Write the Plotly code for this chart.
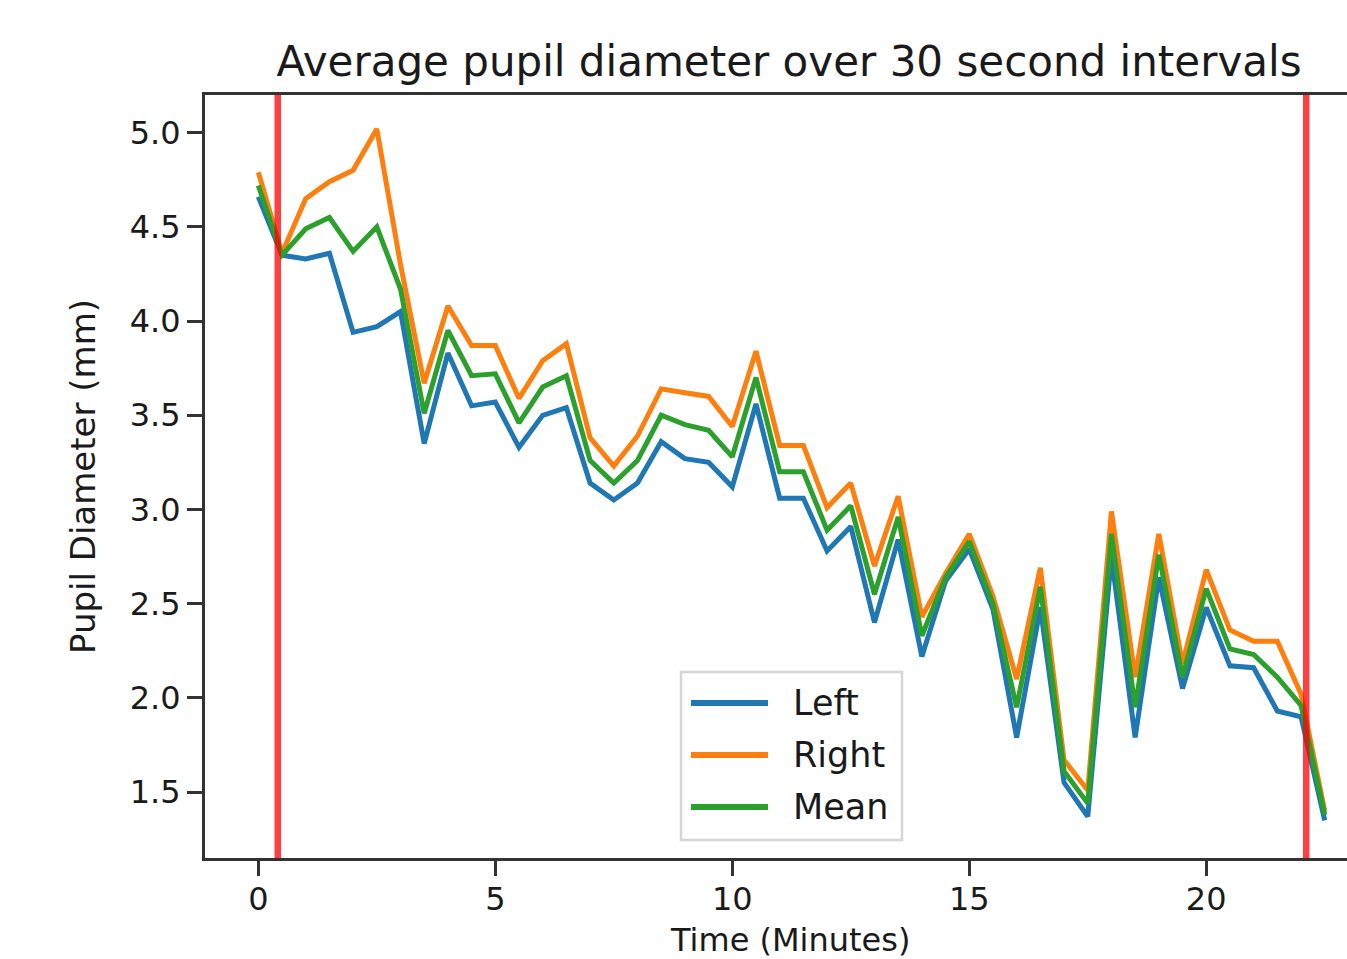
import plotly.graph_objects as go

# ---- data ----
time_min = [0.0, 0.5, 1.0, 1.5, 2.0, 2.5, 3.0, 3.5, 4.0, 4.5, 5.0, 5.5, 6.0, 6.5, 7.0, 7.5,
            8.0, 8.5, 9.0, 9.5, 10.0, 10.5, 11.0, 11.5, 12.0, 12.5, 13.0, 13.5, 14.0, 14.5,
            15.0, 15.5, 16.0, 16.5, 17.0, 17.5, 18.0, 18.5, 19.0, 19.5, 20.0, 20.5, 21.0,
            21.5, 22.0, 22.5]
left = [4.66, 4.35, 4.33, 4.36, 3.94, 3.97, 4.05, 3.35, 3.83, 3.55, 3.57, 3.33, 3.50, 3.54,
        3.14, 3.05, 3.14, 3.36, 3.27, 3.25, 3.12, 3.56, 3.06, 3.06, 2.78, 2.91, 2.40, 2.84,
        2.22, 2.62, 2.79, 2.47, 1.79, 2.48, 1.55, 1.37, 2.75, 1.79, 2.64, 2.05, 2.48, 2.17,
        2.16, 1.93, 1.90, 1.35]
right = [4.79, 4.36, 4.65, 4.74, 4.80, 5.02, 4.30, 3.67, 4.08, 3.87, 3.87, 3.59, 3.79, 3.88,
         3.38, 3.23, 3.39, 3.64, 3.62, 3.60, 3.44, 3.84, 3.34, 3.34, 3.01, 3.14, 2.70, 3.07,
         2.43, 2.66, 2.87, 2.54, 2.10, 2.69, 1.67, 1.51, 2.99, 2.11, 2.87, 2.18, 2.68, 2.36,
         2.30, 2.30, 2.02, 1.40]
mean = [4.72, 4.35, 4.49, 4.55, 4.37, 4.50, 4.17, 3.51, 3.95, 3.71, 3.72, 3.46, 3.65, 3.71,
        3.26, 3.14, 3.26, 3.50, 3.45, 3.42, 3.28, 3.70, 3.20, 3.20, 2.89, 3.02, 2.55, 2.96,
        2.33, 2.64, 2.83, 2.50, 1.95, 2.59, 1.61, 1.44, 2.87, 1.95, 2.76, 2.11, 2.58, 2.26,
        2.23, 2.11, 1.96, 1.38]
marker_times = [0.41, 22.11]
series_names = ["Left", "Right", "Mean"]
x_ticks = [0, 5, 10, 15, 20]
y_ticks = [1.5, 2.0, 2.5, 3.0, 3.5, 4.0, 4.5, 5.0]

colors = ["#1f77b4", "#ff7f0e", "#2ca02c"]
FONT = "DejaVu Sans"
TXT = "#1a1a1a"

W, H = 1347, 959
ML, MR, MT, MB = 205, 0, 95, 101
PW, PH = W - ML - MR, H - MT - MB


def px_x(p):  # pixel x -> paper x
    return (p - ML) / PW


def px_y(p):  # pixel y -> paper y
    return (H - MB - p) / PH


fig = go.Figure()
for name, ys, c in zip(series_names, [left, right, mean], colors):
    fig.add_trace(go.Scatter(x=time_min, y=ys, mode="lines", name=name,
                             line=dict(color=c, width=5), showlegend=False))

for t in marker_times:
    fig.add_vline(x=t, line=dict(color="rgba(255,0,0,0.75)", width=6.5), layer="above")

# ---- legend drawn as a framed box (matplotlib look) ----
bx0, bx1, by0, by1 = px_x(681), px_x(902), px_y(840), px_y(672)
fig.add_shape(type="rect", xref="paper", yref="paper", x0=bx0, x1=bx1, y0=by0, y1=by1,
              line=dict(color="#d6d6d6", width=2.5), fillcolor="rgba(255,255,255,0.8)",
              layer="above")
for i, (name, c) in enumerate(zip(series_names, colors)):
    yy = px_y(703 + 52 * i)
    fig.add_shape(type="line", xref="paper", yref="paper", x0=px_x(691), x1=px_x(768),
                  y0=yy, y1=yy, line=dict(color=c, width=6), layer="above")
    fig.add_annotation(xref="paper", yref="paper", x=px_x(791), y=yy, xanchor="left",
                       yanchor="middle", text=name, showarrow=False,
                       font=dict(family=FONT, size=35, color=TXT))

# x axis title as annotation (centred on the full, partly cropped axis)
fig.add_annotation(xref="paper", yref="paper", x=px_x(790), y=px_y(940), xanchor="center",
                   yanchor="middle", text="Time (Minutes)", showarrow=False, borderpad=0,
                   font=dict(family=FONT, size=32, color=TXT))

fig.update_layout(
    width=W, height=H,
    margin=dict(l=ML, r=MR, t=MT, b=MB),
    paper_bgcolor="white", plot_bgcolor="white",
    font=dict(family=FONT, size=32, color=TXT),
    title=dict(text="Average pupil diameter over 30 second intervals",
               x=789 / W, xanchor="center", xref="container",
               y=1 - 61 / H, yanchor="middle", yref="container",
               font=dict(family=FONT, size=42, color=TXT)),
    showlegend=False,
)

fig.update_xaxes(
    range=[-1.125, 22.97], tickvals=x_ticks, ticktext=[str(v) for v in x_ticks],
    showgrid=False, zeroline=False,
    showline=True, linecolor="#333333", linewidth=3, mirror=True,
    ticks="outside", ticklen=15, tickwidth=2.5, tickcolor="#333333",
    ticklabelstandoff=-4,
    tickfont=dict(family=FONT, size=32, color=TXT),
)
fig.update_yaxes(
    range=[1.15, 5.2], tickvals=y_ticks, ticktext=[f"{v:.1f}" for v in y_ticks],
    showgrid=False, zeroline=False,
    showline=True, linecolor="#333333", linewidth=3, mirror=False,
    ticks="outside", ticklen=15, tickwidth=2.5, tickcolor="#333333",
    tickfont=dict(family=FONT, size=32, color=TXT),
    title=dict(text="Pupil Diameter (mm)", standoff=24,
               font=dict(family=FONT, size=34, color=TXT)),
)

fig.write_html("out.html", config={"displayModeBar": False},
               post_script="document.body.style.margin='0';document.body.style.overflow='hidden';")
